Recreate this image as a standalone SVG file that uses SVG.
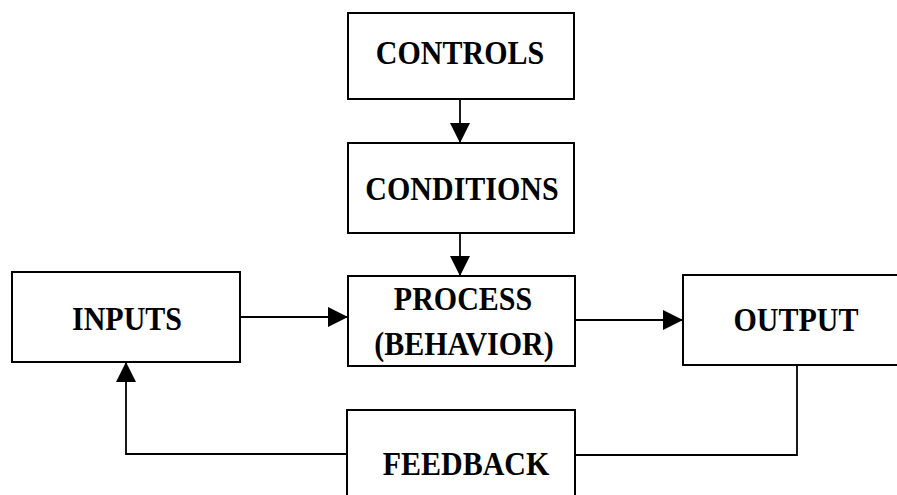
<svg xmlns="http://www.w3.org/2000/svg" width="897" height="495" viewBox="0 0 897 495">
<style>
.box{fill:#fff;stroke:#000;stroke-width:2}
.lbl{font-family:'Liberation Serif','Times New Roman',serif;font-weight:700;font-size:30px;text-anchor:middle;fill:#000}
.conn{fill:none;stroke:#000;stroke-width:1.8}
</style>
<defs>
<marker id="ah" viewBox="0 0 20 20" refX="20" refY="10" markerWidth="20" markerHeight="20" markerUnits="userSpaceOnUse" orient="auto">
<path d="M0,0 L20,10 L0,20 z" fill="#000"/>
</marker>
</defs>
<rect width="897" height="495" fill="#fff"/>
<g id="controls">
<rect class="box" x="348" y="13" width="226" height="86"/>
<text class="lbl" transform="translate(460,64) scale(1,1.12)">CONTROLS</text>
</g>
<g id="conditions">
<rect class="box" x="348" y="143" width="226" height="90"/>
<text class="lbl" transform="translate(462,200) scale(1,1.12)">CONDITIONS</text>
</g>
<g id="process">
<rect class="box" x="348" y="276" width="227" height="90"/>
<text class="lbl" transform="translate(463,310) scale(1,1.12)">PROCESS</text>
<text class="lbl" transform="translate(464,355) scale(1,1.12)">(BEHAVIOR)</text>
</g>
<g id="inputs">
<rect class="box" x="12" y="272" width="228" height="90"/>
<text class="lbl" transform="translate(127,330) scale(1,1.12)">INPUTS</text>
</g>
<g id="output">
<path class="box" d="M900,275 L683,275 L683,365 L900,365"/>
<text class="lbl" transform="translate(796,331) scale(1,1.12)">OUTPUT</text>
</g>
<g id="feedback">
<path class="box" d="M347,500 L347,410 L575,410 L575,500"/>
<text class="lbl" transform="translate(466,475) scale(1,1.12)">FEEDBACK</text>
</g>
<g id="connectors">
<line class="conn" x1="460" y1="99" x2="460" y2="143" marker-end="url(#ah)"/>
<line class="conn" x1="460" y1="233" x2="460" y2="276" marker-end="url(#ah)"/>
<line class="conn" x1="240" y1="317" x2="348" y2="317" marker-end="url(#ah)"/>
<line class="conn" x1="575" y1="320" x2="683" y2="320" marker-end="url(#ah)"/>
<polyline class="conn" points="797,365 797,455 575,455"/>
<polyline class="conn" points="347,454 126,454 126,362" marker-end="url(#ah)"/>
</g>
</svg>
